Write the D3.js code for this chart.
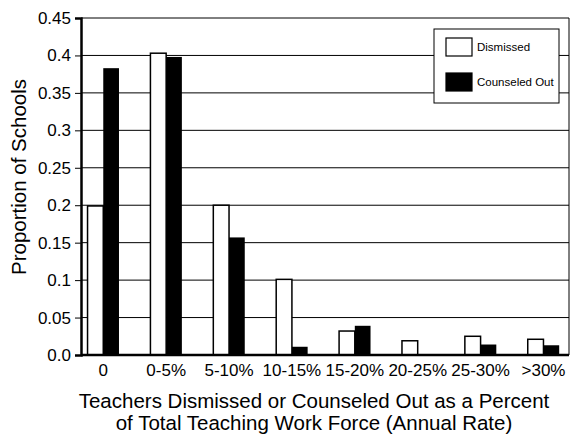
<!DOCTYPE html>
<html lang="en">
  <head>
    <meta charset="UTF-8" />
    <title>Teachers Dismissed or Counseled Out</title>
    <script src="https://d3js.org/d3.v7.min.js"></script>
    <style>
      body { margin: 0; background: #fff; }
      text { font-family: 'Liberation Sans', Arial, sans-serif; fill: #000; }
    </style>
  </head>

  <body>
    <div id="graph"></div>
    <script>
      const categories = ['0', '0-5%', '5-10%', '10-15%', '15-20%', '20-25%', '25-30%', '>30%']
      const dismissed = [0.199, 0.403, 0.2, 0.101, 0.032, 0.019, 0.025, 0.021]
      const counseled = [0.383, 0.398, 0.157, 0.011, 0.039, 0, 0.014, 0.013]
      const yTicks = [0, 0.05, 0.1, 0.15, 0.2, 0.25, 0.3, 0.35, 0.4, 0.45]
      const yTickLabels = ['0.0', '0.05', '0.1', '0.15', '0.2', '0.25', '0.3', '0.35', '0.4', '0.45']
      const seriesNames = ['Dismissed', 'Counseled Out']

      const width = 577
      const height = 436
      const margin = { left: 81, right: 8, top: 18, bottom: 81 }

      const svg = d3.select('#graph').append('svg').attr('width', width).attr('height', height)

      // 比例尺
      const xScale = d3
        .scaleBand()
        .domain(categories)
        .range([margin.left, width - margin.right])
        .paddingInner(0.5)
        .paddingOuter(0.13)
        .align(0.4)
      const yScale = d3
        .scaleLinear()
        .domain([0, 0.45])
        .range([height - margin.bottom, margin.top])
      const inner = d3.scaleBand().domain([0, 1]).range([0, xScale.bandwidth()])

      // 网格线
      svg
        .append('g')
        .selectAll('line')
        .data(yTicks.slice(1))
        .join('line')
        .attr('x1', margin.left)
        .attr('x2', width - margin.right)
        .attr('y1', (d) => yScale(d))
        .attr('y2', (d) => yScale(d))
        .attr('stroke', '#000')
        .attr('stroke-width', 1)
      // 右边框
      svg
        .append('line')
        .attr('x1', width - margin.right)
        .attr('x2', width - margin.right)
        .attr('y1', yScale(0.45))
        .attr('y2', yScale(0))
        .attr('stroke', '#000')

      // 柱形
      const groups = svg
        .append('g')
        .selectAll('g')
        .data(categories)
        .join('g')
        .attr('transform', (d) => `translate(${xScale(d)},0)`)
      groups
        .append('rect')
        .attr('x', inner(0))
        .attr('width', inner.bandwidth())
        .attr('y', (_, i) => yScale(dismissed[i]))
        .attr('height', (_, i) => yScale(0) - yScale(dismissed[i]))
        .attr('fill', '#fff')
        .attr('stroke', '#000')
        .attr('stroke-width', 1.5)
      groups
        .filter((_, i) => counseled[i] > 0)
        .append('rect')
        .attr('x', inner(1))
        .attr('width', inner.bandwidth())
        .attr('y', (d) => yScale(counseled[categories.indexOf(d)]))
        .attr('height', (d) => yScale(0) - yScale(counseled[categories.indexOf(d)]))
        .attr('fill', '#000')

      // 坐标轴
      const yAxis = d3
        .axisLeft(yScale)
        .tickValues(yTicks)
        .tickFormat((_, i) => yTickLabels[i])
        .tickSize(6)
        .tickPadding(4)
      const gy = svg.append('g').attr('transform', `translate(${margin.left},0)`).call(yAxis)
      gy.select('.domain').attr('stroke-width', 2.5)
      gy.selectAll('text').attr('font-size', 17).attr('font-family', null)

      const xAxis = d3.axisBottom(xScale).tickSize(0).tickPadding(9)
      const gx = svg.append('g').attr('transform', `translate(0,${yScale(0)})`).call(xAxis)
      gx.select('.domain').attr('d', `M${margin.left},0H${width - margin.right}`).attr('stroke-width', 2.5)
      gx.selectAll('text').attr('font-size', 17).attr('font-family', null)

      // 标题
      svg
        .append('text')
        .attr('x', 314)
        .attr('y', 408)
        .attr('text-anchor', 'middle')
        .attr('font-size', 20.5)
        .text('Teachers Dismissed or Counseled Out as a Percent')
      svg
        .append('text')
        .attr('x', 314)
        .attr('y', 430)
        .attr('text-anchor', 'middle')
        .attr('font-size', 20.5)
        .text('of Total Teaching Work Force (Annual Rate)')
      svg
        .append('text')
        .attr('transform', 'translate(26,177) rotate(-90)')
        .attr('text-anchor', 'middle')
        .attr('font-size', 20.5)
        .text('Proportion of Schools')

      // 图例
      const legend = svg.append('g').attr('transform', 'translate(434,29)')
      legend.append('rect').attr('width', 125).attr('height', 74).attr('fill', '#fff').attr('stroke', '#000')
      legend
        .selectAll('rect.sw')
        .data(seriesNames)
        .join('rect')
        .attr('class', 'sw')
        .attr('x', 12)
        .attr('y', (_, i) => 9 + i * 35)
        .attr('width', 26)
        .attr('height', 18)
        .attr('fill', (_, i) => (i === 0 ? '#fff' : '#000'))
        .attr('stroke', '#000')
        .attr('stroke-width', 1.2)
      legend
        .selectAll('text')
        .data(seriesNames)
        .join('text')
        .attr('x', 43)
        .attr('y', (_, i) => 22 + i * 35)
        .attr('font-size', 11.5)
        .text((d) => d)
    </script>
  </body>
</html>
